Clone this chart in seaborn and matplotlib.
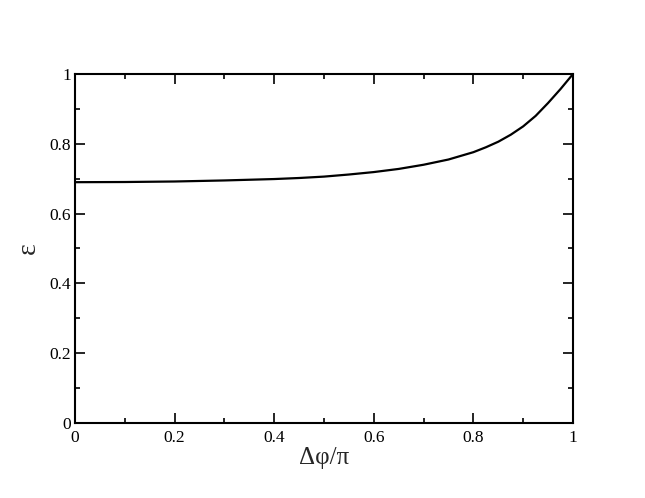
import matplotlib
matplotlib.use("Agg")
import matplotlib.pyplot as plt
import seaborn as sns
import pandas as pd
from matplotlib.ticker import MultipleLocator, FuncFormatter

# Data
dphi = [0.0, 0.1, 0.2, 0.3, 0.4, 0.45, 0.5, 0.55, 0.6, 0.65, 0.7, 0.75,
        0.8, 0.825, 0.85, 0.875, 0.9, 0.925, 0.95, 0.975, 1.0]
eps = [0.690, 0.6905, 0.692, 0.695, 0.699, 0.702, 0.706, 0.712, 0.719, 0.728,
       0.740, 0.755, 0.776, 0.790, 0.806, 0.826, 0.850, 0.880, 0.917, 0.957, 1.0]

df = pd.DataFrame({"x": dphi, "y": eps})

sns.set_style("ticks")
plt.rcParams["font.family"] = ["Liberation Serif", "DejaVu Serif"]

fig = plt.figure(figsize=(6.45, 4.98), dpi=100)
ax = fig.add_axes([75 / 645, 75 / 498, 498 / 645, 349 / 498])

sns.lineplot(data=df, x="x", y="y", ax=ax, color="black", linewidth=1.6)

ax.set_xlim(0, 1)
ax.set_ylim(0, 1)
ax.xaxis.set_major_locator(MultipleLocator(0.2))
ax.xaxis.set_minor_locator(MultipleLocator(0.1))
ax.yaxis.set_major_locator(MultipleLocator(0.2))
ax.yaxis.set_minor_locator(MultipleLocator(0.1))
fmt = FuncFormatter(lambda v, p: "%g" % round(v, 3))
ax.xaxis.set_major_formatter(fmt)
ax.yaxis.set_major_formatter(fmt)

ax.tick_params(which="both", direction="in", top=True, right=True,
               color="black", labelsize=12.5, labelcolor="black")
ax.tick_params(which="major", length=7, width=1.2)
ax.tick_params(axis="x", which="major", pad=5)
ax.tick_params(axis="y", which="major", pad=3)
ax.tick_params(which="minor", length=3.5, width=1.2)
for s in ax.spines.values():
    s.set_linewidth(1.5)
    s.set_color("black")
    s.set_visible(True)

ax.set_xlabel("Δφ/π", fontsize=18, labelpad=1)
ax.set_ylabel("ε", fontsize=20, labelpad=6)

fig.savefig("out.png", dpi=100)
